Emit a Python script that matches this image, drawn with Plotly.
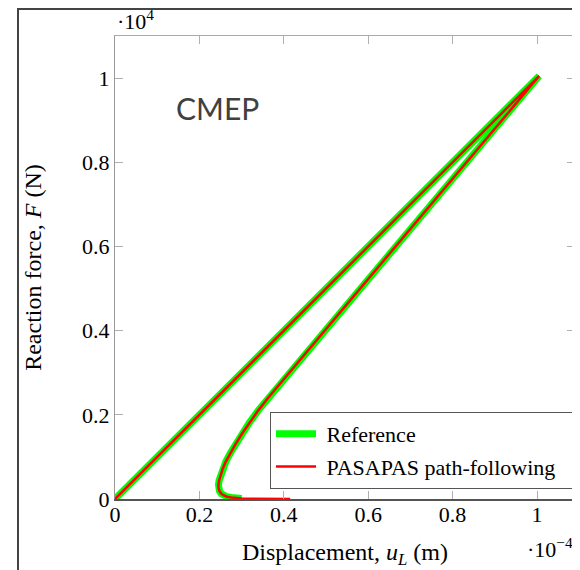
import plotly.graph_objects as go

# Displacement u_L in units of 1e-4 m, reaction force F in units of 1e4 N
ref_u = [0, 0.5, 1.005,
         0.963, 0.837, 0.657, 0.498, 0.412, 0.387, 0.3625, 0.339, 0.3175, 0.3008,
         0.2853, 0.2737, 0.2631, 0.2553, 0.2497, 0.2467, 0.2452, 0.2452, 0.2475,
         0.2515, 0.257, 0.265, 0.276, 0.287, 0.300]
ref_F = [0, 0.5, 1.005,
         0.955, 0.805, 0.591, 0.401, 0.30, 0.27, 0.24, 0.21, 0.18, 0.155,
         0.13, 0.11, 0.09, 0.072, 0.056, 0.044, 0.034, 0.026, 0.019,
         0.013, 0.009, 0.0055, 0.0035, 0.002, 0.001]
tail_u = [0.33, 0.37, 0.415]
tail_F = [0.0006, 0.0003, 0.0]
pas_u = ref_u + tail_u
pas_F = ref_F + tail_F

x_ticks = [0, 0.2, 0.4, 0.6, 0.8, 1]
x_labels = ["0", "0.2", "0.4", "0.6", "0.8", "1"]
y_ticks = [0, 0.2, 0.4, 0.6, 0.8, 1]
y_labels = ["0", "0.2", "0.4", "0.6", "0.8", "1"]

serif = "Times New Roman, Liberation Serif, serif"
FS = 22   # tick labels
TS = 24   # axis titles
NB = "\u00a0"

# page body has an 8px margin, so the figure is laid out 8px smaller
W, H = 572, 562
L, R, T, B = 107, 5, 28, 71
pw, ph = W - L - R, H - T - B

fig = go.Figure()
fig.add_trace(go.Scatter(x=ref_u, y=ref_F, mode="lines", name=NB + "Reference",
                         line=dict(color="#00ff00", width=7), legendgroup="a"))
fig.add_trace(go.Scatter(x=pas_u, y=pas_F, mode="lines",
                         name=NB + "PASAPAS path-following" + NB * 3,
                         line=dict(color="#ff0000", width=2.5), legendgroup="b"))
fig.add_trace(go.Scatter(x=[0], y=[0], xaxis="x2", mode="markers",
                         marker=dict(opacity=0), showlegend=False, hoverinfo="skip"))

fig.update_layout(
    width=W, height=H,
    margin=dict(l=L, r=R, t=T, b=B, autoexpand=False),
    paper_bgcolor="white", plot_bgcolor="white",
    font=dict(family=serif, size=FS, color="black"),
    showlegend=True,
    legend=dict(x=(570 - L) / pw, xanchor="right", y=(491 - 404) / ph, yanchor="top",
                bgcolor="white", bordercolor="#555", borderwidth=1,
                font=dict(family=serif, size=22, color="black"), tracegroupgap=1,
                traceorder="grouped", itemwidth=40),
    xaxis=dict(range=[0, 1.09], tickvals=x_ticks, ticktext=x_labels,
               ticks="inside", ticklen=8, tickcolor="#b0b0b0", ticklabelstandoff=-5,
               tickfont=dict(family=serif, size=FS, color="black"),
               showline=True, linecolor="#555", linewidth=1.5,
               showgrid=False, zeroline=False,
               title=dict(text="Displacement, <i>u</i><sub><i>L</i></sub> (m)",
                          standoff=17, font=dict(family=serif, size=TS, color="black"))),
    xaxis2=dict(range=[0, 1.09], overlaying="x", side="top", tickvals=x_ticks,
                showticklabels=False, ticks="inside", ticklen=8, tickcolor="#b0b0b0",
                showline=True, linecolor="#aaa", linewidth=1, showgrid=False,
                zeroline=False),
    yaxis=dict(range=[0, 1.1], tickvals=y_ticks, ticktext=y_labels,
               ticks="inside", ticklen=8, tickcolor="#b0b0b0",
               tickfont=dict(family=serif, size=FS, color="black"),
               showline=True, linecolor="#999", linewidth=1, mirror="ticks",
               showgrid=False, zeroline=False,
               title=dict(text="Reaction force, <i>F</i> (N)", standoff=33,
                          font=dict(family=serif, size=TS, color="black"))),
    annotations=[
        dict(text="·10<sup>4</sup>", xref="paper", yref="paper", x=0.0, y=1.0,
             xanchor="left", yanchor="bottom", showarrow=False,
             font=dict(family=serif, size=FS, color="black")),
        dict(text="·10<sup>−4</sup>", xref="paper", yref="paper", x=1.0, y=-0.072,
             xanchor="right", yanchor="top", showarrow=False,
             font=dict(family=serif, size=FS, color="black")),
        dict(text="CMEP", xref="paper", yref="paper", x=0.128, y=0.845,
             xanchor="left", yanchor="middle", showarrow=False,
             font=dict(family="Lato", size=30, color="#404040")),
    ],
    shapes=[
        dict(type="rect", xref="paper", yref="paper",
             x0=(10 - L) / pw, x1=(570 - L) / pw,
             y0=(491 - 600) / ph, y1=(491 - 1) / ph,
             line=dict(color="#444", width=2), fillcolor="rgba(0,0,0,0)"),
    ],
)

fig.write_html("out.html")
